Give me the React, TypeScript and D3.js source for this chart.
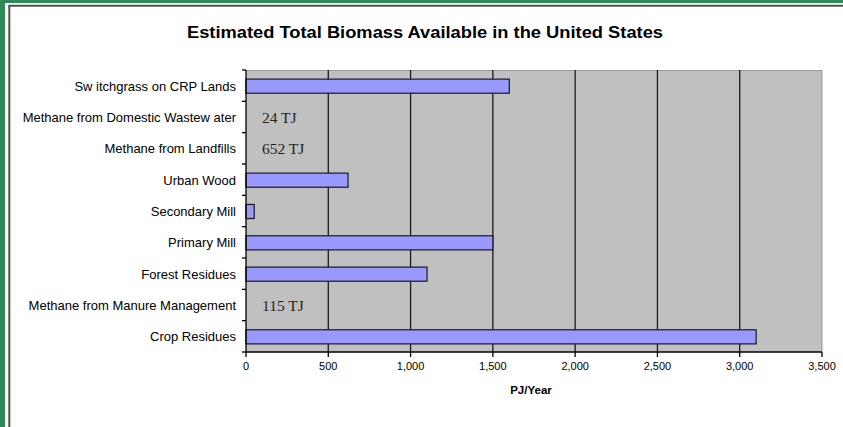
import React from "react";
import * as d3 from "d3";

// Biomass resources, top to bottom as listed on the chart
const categories = [
  "Sw itchgrass on CRP Lands",
  "Methane from Domestic Wastew ater",
  "Methane from Landfills",
  "Urban Wood",
  "Secondary Mill",
  "Primary Mill",
  "Forest Residues",
  "Methane from Manure Management",
  "Crop Residues",
];

// Available biomass, PJ per year
const valuesPJ = [1600, 0.024, 0.652, 620, 50, 1500, 1100, 0.115, 3100];

const xTicks = [0, 500, 1000, 1500, 2000, 2500, 3000, 3500];

const title = "Estimated Total Biomass Available in the United States";
const xAxisTitle = "PJ/Year";

const W = 843;
const H = 427;
const plot = { left: 246, right: 822, top: 70, bottom: 352 };

export default function App() {
  const x = d3.scaleLinear().domain([0, 3500]).range([plot.left, plot.right]);
  const y = d3
    .scaleBand<string>()
    .domain(categories)
    .range([plot.top + 0.5, plot.bottom + 0.5])
    .paddingInner(0.55)
    .paddingOuter(0.275);
  const step = y.step();
  const fmt = d3.format(",");
  const sans = "'Liberation Sans', Arial, sans-serif";
  const serif = "'Liberation Serif', 'Times New Roman', serif";

  return (
    <svg
      width={W}
      height={H}
      style={{ position: "absolute", left: 0, top: 0, display: "block" }}
    >
      {/* page frame */}
      <rect x={0} y={0} width={W} height={H} fill="#ffffff" />
      <rect x={0} y={0} width={5} height={H} fill="#2e8b57" />
      <rect x={0} y={0} width={W} height={3} fill="#2e8b57" />
      <line x1={9.3} y1={5.8} x2={9.3} y2={H} stroke="#505050" strokeWidth={2} />
      <line x1={8.3} y1={5.8} x2={W} y2={5.8} stroke="#505050" strokeWidth={2} />

      <text
        x={425}
        y={38}
        textAnchor="middle"
        fontFamily={sans}
        fontWeight="bold"
        fontSize={16}
        textLength={476}
        lengthAdjust="spacingAndGlyphs"
        fill="#000"
      >
        {title}
      </text>

      {/* plot background */}
      <rect
        x={plot.left}
        y={plot.top}
        width={plot.right - plot.left}
        height={plot.bottom - plot.top}
        fill="#c0c0c0"
      />
      <line x1={plot.left} y1={plot.top + 0.5} x2={plot.right} y2={plot.top + 0.5} stroke="#9a9a9a" strokeWidth={1} />
      <line x1={plot.right} y1={plot.top} x2={plot.right} y2={plot.bottom} stroke="#9a9a9a" strokeWidth={1} />

      {/* vertical gridlines */}
      {xTicks.slice(1, -1).map((t) => (
        <line
          key={`g${t}`}
          x1={x(t)}
          x2={x(t)}
          y1={plot.top}
          y2={plot.bottom}
          stroke="#1a1a1a"
          strokeWidth={1.3}
        />
      ))}

      {/* bars */}
      {categories.map((c, i) => (
        <rect
          key={`b${c}`}
          x={x(0)}
          y={y(c)!}
          width={Math.max(0, x(valuesPJ[i]) - x(0))}
          height={y.bandwidth()}
          fill="#9999ff"
          stroke="#1a1a1a"
          strokeWidth={valuesPJ[i] < 1 ? 0 : 1.2}
        />
      ))}

      {/* values too small to show as bars, labelled in TJ */}
      {categories.map((c, i) =>
        valuesPJ[i] < 1 ? (
          <text
            key={`v${c}`}
            x={x(0) + 16}
            y={y(c)! + y.bandwidth() / 2 + 5.5}
            fontFamily={serif}
            fontSize={15.5}
            fill="#222"
          >
            {`${Math.round(valuesPJ[i] * 1000)} TJ`}
          </text>
        ) : null
      )}

      {/* axes */}
      <line x1={plot.left} y1={plot.bottom} x2={plot.right} y2={plot.bottom} stroke="#000" strokeWidth={1.3} />
      <line x1={plot.left} y1={plot.top} x2={plot.left} y2={plot.bottom} stroke="#000" strokeWidth={1.3} />
      {xTicks.map((t) => (
        <g key={`t${t}`}>
          <line x1={x(t)} x2={x(t)} y1={plot.bottom} y2={plot.bottom + 5} stroke="#000" strokeWidth={1.3} />
          <text
            x={x(t)}
            y={370}
            textAnchor="middle"
            fontFamily={sans}
            fontSize={11}
            fill="#000"
          >
            {fmt(t)}
          </text>
        </g>
      ))}
      {d3.range(categories.length + 1).map((i) => (
        <line
          key={`yt${i}`}
          x1={plot.left - 4}
          x2={plot.left}
          y1={plot.top + i * step}
          y2={plot.top + i * step}
          stroke="#000"
          strokeWidth={1.3}
        />
      ))}
      {categories.map((c) => (
        <text
          key={`l${c}`}
          x={236}
          y={y(c)! + y.bandwidth() / 2 + 4.5}
          textAnchor="end"
          fontFamily={sans}
          fontSize={13}
          fill="#000"
        >
          {c}
        </text>
      ))}

      <text
        x={531}
        y={394}
        textAnchor="middle"
        fontFamily={sans}
        fontWeight="bold"
        fontSize={11.5}
        fill="#000"
      >
        {xAxisTitle}
      </text>
    </svg>
  );
}
